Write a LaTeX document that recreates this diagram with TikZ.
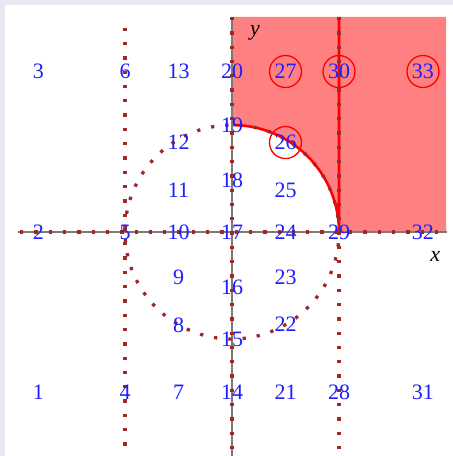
\documentclass[tikz,border=0pt]{standalone}
\usepackage{fontspec}
\setmainfont{Liberation Serif}
\definecolor{bgborder}{HTML}{E8E8F2}
\definecolor{regfill}{HTML}{FF8080}
\definecolor{dotred}{HTML}{A02828}
\definecolor{numblue}{HTML}{1E1EFF}
\definecolor{axisgray}{HTML}{7A7A7A}
\tikzset{
  dotl/.style={dotred, line width=3.3pt, dash pattern=on 3.3pt off 11pt},
  num/.style={text=numblue, font=\fontsize{22}{24}\selectfont, inner sep=0pt},
  mark/.style={},
  ring/.style={draw=red, line width=1.3pt, circle, minimum size=32pt},
  axlab/.style={font=\fontsize{22}{24}\selectfont\itshape, inner sep=0pt}
}
\begin{document}
\begin{tikzpicture}[x=1pt,y=-1pt]
\useasboundingbox (0,0) rectangle (453,456);
\clip (0,0) rectangle (453,456);
\fill[bgborder] (0,0) rectangle (453,456);
\fill[white] (5,5) rectangle (453,456);
\begin{scope}[shift={(232pt,-232pt)}, x=107pt, y=107pt]
  % region
  \fill[regfill] (0,1) -- (0,2.01) -- (2.0,2.01) -- (2.0,0) -- (1,0) arc[start angle=0, end angle=90, radius=1] -- cycle;
  \draw[red, line width=2.6pt] (0,1) arc[start angle=90, end angle=0, radius=1] -- (1,2.01);
  % axes
  \draw[axisgray, line width=1.3pt] (-2.0,0) -- (2.01,0);
  \draw[axisgray, line width=1.3pt] (0,-2.2) -- (0,2.01);
  % dotted lines
  \draw[dotl] (-1.98,0) -- (2.01,0);
  \draw[dotl] (-1,1.91) -- (-1,-2.2);
  \draw[dotl] (0,2.01) -- (0,-2.2);
  \draw[dotl] (1,2.01) -- (1,-2.2);
  \draw[dotl] (0,0) circle[radius=1];
  % axis labels
  \node[axlab] (ylab) at (0.215,1.86) {y};
  \node[axlab] (xlab) at (1.9,-0.23) {x};
  % numbers
  \node[num] (n1) at (-1.81,-1.5) {1};
  \node[num] (n2) at (-1.81,0) {2};
  \node[num] (n3) at (-1.81,1.5) {3};
  \node[num] (n4) at (-1,-1.5) {4};
  \node[num] (n5) at (-1,0) {5};
  \node[num] (n6) at (-1,1.5) {6};
  \node[num] (n7) at (-0.5,-1.5) {7};
  \node[num] (n8) at (-0.5,-0.869) {8};
  \node[num] (n9) at (-0.5,-0.42) {9};
  \node[num] (n10) at (-0.5,0) {10};
  \node[num] (n11) at (-0.5,0.393) {11};
  \node[num] (n12) at (-0.5,0.841) {12};
  \node[num] (n13) at (-0.5,1.5) {13};
  \node[num] (n14) at (0,-1.5) {14};
  \node[num] (n15) at (0,-1.0) {15};
  \node[num] (n16) at (0,-0.514) {16};
  \node[num] (n17) at (0,0) {17};
  \node[num] (n18) at (0,0.48) {18};
  \node[num] (n19) at (0,0.993) {19};
  \node[num] (n20) at (0,1.5) {20};
  \node[num] (n21) at (0.5,-1.5) {21};
  \node[num] (n22) at (0.5,-0.86) {22};
  \node[num] (n23) at (0.5,-0.42) {23};
  \node[num] (n24) at (0.5,0) {24};
  \node[num] (n25) at (0.5,0.393) {25};
  \node[num] (n26) at (0.5,0.836) {26};
  \node[num] (n27) at (0.5,1.5) {27};
  \node[num] (n28) at (1,-1.5) {28};
  \node[num] (n29) at (1,0) {29};
  \node[num] (n30) at (1,1.5) {30};
  \node[num] (n31) at (1.785,-1.5) {31};
  \node[num] (n32) at (1.785,0) {32};
  \node[num] (n33) at (1.785,1.5) {33};
  % rings
  \node[ring] (r26) at (n26) {};
  \node[ring] (r27) at (n27) {};
  \node[ring] (r30) at (n30) {};
  \node[ring] (r33) at (n33) {};
\end{scope}
\end{tikzpicture}
\end{document}
